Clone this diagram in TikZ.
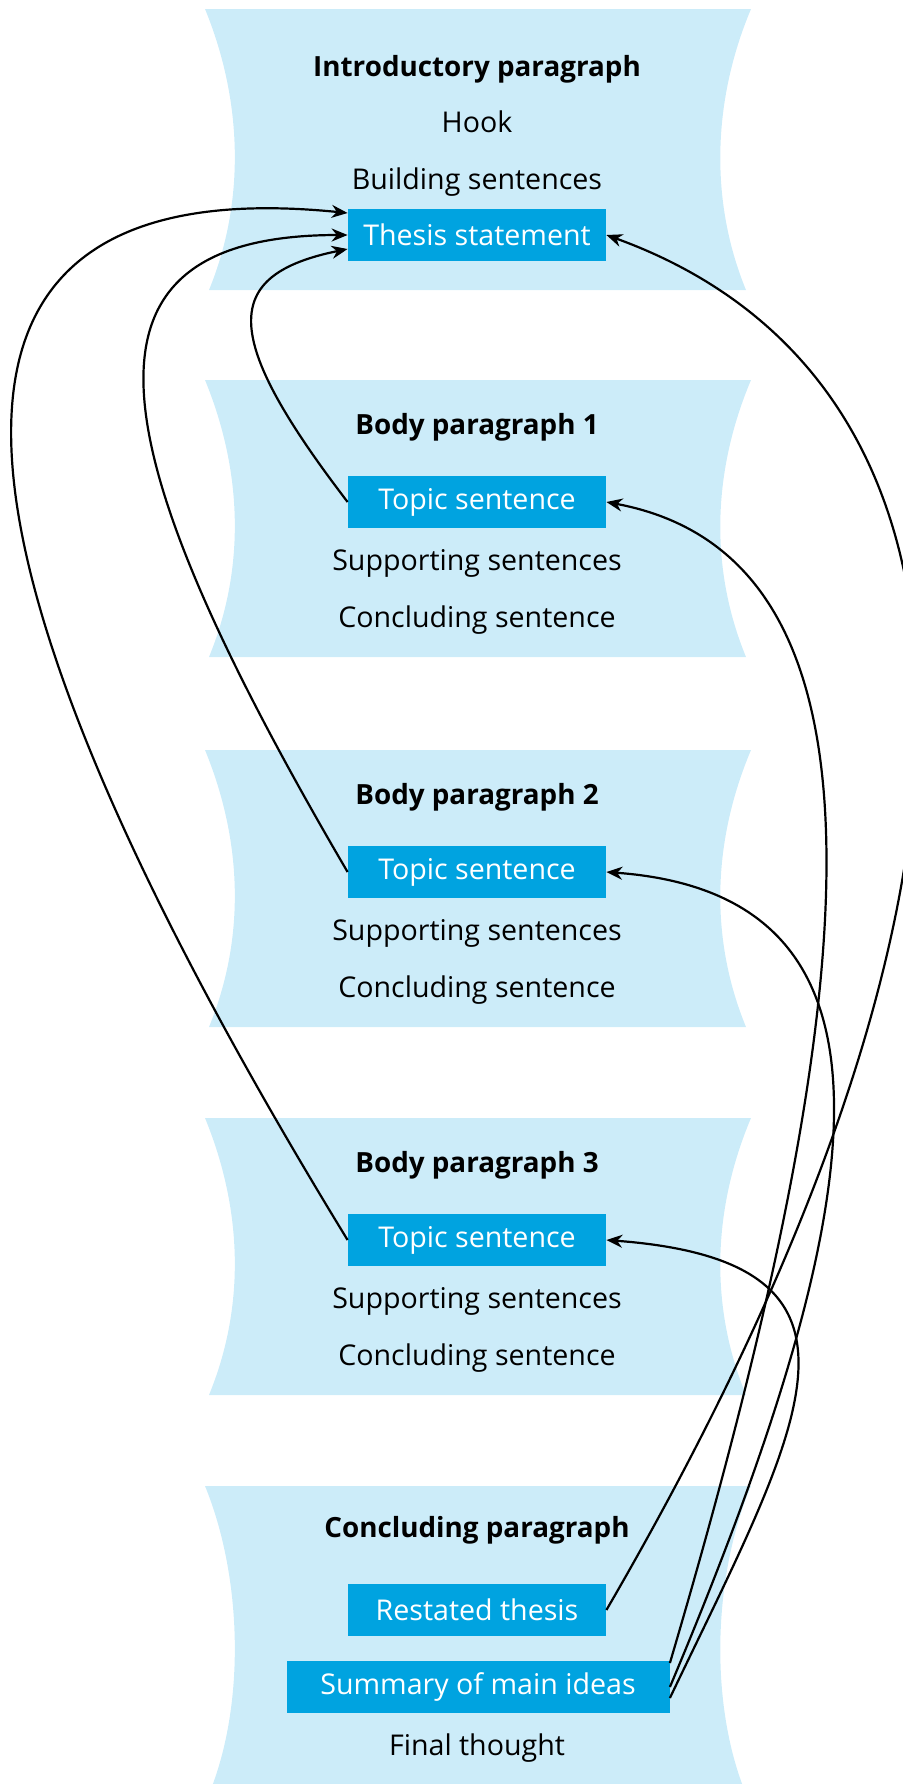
\documentclass[tikz,border=0pt]{standalone}
\usepackage{fontspec}
\setmainfont{Open Sans}
\usetikzlibrary{arrows.meta}
\definecolor{paralight}{RGB}{204,236,249}
\definecolor{boxblue}{RGB}{0,163,224}
\tikzset{
  parablock/.style={fill=paralight},
  headline/.style={font=\fontsize{13.9}{16}\selectfont\bfseries},
  plain/.style={font=\fontsize{14.3}{16}\selectfont},
  keybox/.style={fill=boxblue, text=white, font=\fontsize{14.3}{16}\selectfont,
    minimum width=129pt, minimum height=26pt, inner sep=0pt},
  link/.style={line width=1.1pt, -{Stealth[length=8pt,width=6.5pt]}},
}

\begin{document}
\begin{tikzpicture}[x=0.5pt, y=-0.5pt]
	\clip (0,0) rectangle (903,1784);
	
	% paragraph blocks
	\foreach \yy/\hh in {9/281,380/277,750/277,1118/277,1486/308}
	\fill[parablock] (205,\yy) .. controls (242,\yy+90) and (246,\yy+\hh-90) .. (209,\yy+\hh)
		-- (746,\yy+\hh) .. controls (709,\yy+\hh-90) and (713,\yy+90) .. (751,\yy) -- cycle;
	
	% introduction
	\node[headline] (intro) at (477,69) {Introductory paragraph};
	\node[plain] (hook) at (477,122) {Hook};
	\node[plain] (build) at (477,182) {Building sentences};
	\node[keybox] (thesis) at (477,235) {Thesis statement};
	
	% body paragraphs
	\foreach \i/\yy in {1/380,2/750,3/1118} {
		\node[headline] (body\i) at (477,\yy+47) {Body paragraph \i};
		\node[keybox] (topic\i) at (477,\yy+122) {Topic sentence};
		\node[plain] (supp\i) at (477,\yy+183) {Supporting sentences};
		\node[plain] (concl\i) at (477,\yy+240) {Concluding sentence};
	}
	
	% conclusion
	\node[headline] (ending) at (477,1530) {Concluding paragraph};
	\node[keybox] (restated) at (477,1610) {Restated thesis};
	\node[keybox, minimum width=191.5pt] (summary) at (478,1687) {Summary of main ideas};
	\node[plain] (final) at (477,1748) {Final thought};
	
	% topic sentences back to the thesis
	\draw[link] (topic1.west) .. controls +(-127,-166) and +(-127,26) .. ([yshift=-7pt]thesis.west);
	\draw[link] (topic2.west) .. controls +(-250,-427) and +(-290,0) .. (thesis.west);
	\draw[link] (topic3.west) .. controls +(-447,-731) and +(-447,-45) .. ([yshift=11pt]thesis.west);
	
	% conclusion back to thesis and topics
	\draw[link] (restated.east) .. controls +(450,-774) and +(376,136) .. (thesis.east);
	\draw[link] ([yshift=12pt]summary.east) .. controls +(190,-643) and +(309,58) .. (topic1.east);
	\draw[link] (summary.east) .. controls +(205,-487) and +(314,23) .. (topic2.east);
	\draw[link] ([yshift=-5.5pt]summary.east) .. controls +(129,-270) and +(294,22) .. (topic3.east);
\end{tikzpicture}
\end{document}
